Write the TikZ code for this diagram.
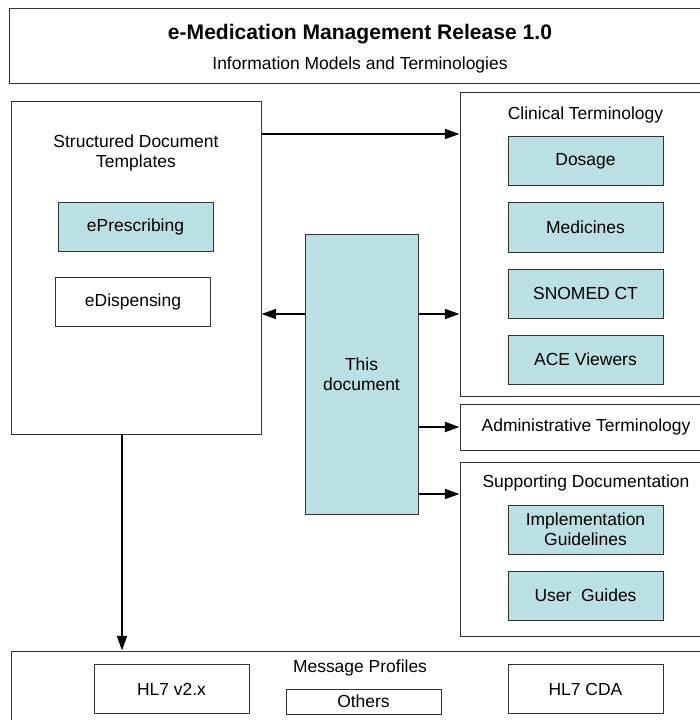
\documentclass[tikz,border=0pt]{standalone}
\usepackage{fontspec}
\setmainfont{Liberation Sans}
\usetikzlibrary{positioning,arrows.meta}

\definecolor{tealfill}{RGB}{186,224,227}

\begin{document}
\begin{tikzpicture}[x=0.75pt, y=-0.75pt,
  every node/.style={font=\fontsize{13.1}{15}\selectfont},
  frame/.style={draw=black!80, line width=0.75pt, inner sep=0pt},
  leaf/.style={frame, minimum width=116.25pt, minimum height=36.75pt, align=center},
  tleaf/.style={leaf, fill=tealfill},
  arr/.style={-{Triangle[length=11pt, width=7.5pt]}, line width=1.4pt}]
  \useasboundingbox (0,0) rectangle (699,720);
  % header
  \node[frame, minimum width=526.5pt, minimum height=56.25pt] (head) at (360,46.5) {};
  \node[font=\fontsize{15.8}{18}\selectfont\bfseries] (htitle) at (360,34) {e-Medication Management Release 1.0};
  \node (hsub) at (360,65) {Information Models and Terminologies};
  % templates
  \node[frame, minimum width=187.5pt, minimum height=249pt] (sdt) at (136,268) {};
  \node[align=center] (sdtlbl) at (136,153) {Structured Document\\Templates};
  \node[tleaf] (epres) at (135.5,227) {ePrescribing};
  \node[leaf] (edisp) at (133,302) {eDispensing};
  % clinical terminology
  \node[frame, minimum width=189pt, minimum height=227.25pt] (clin) at (586,244.5) {};
  \node (clinlbl) at (585.5,115) {Clinical Terminology};
  \node[tleaf] (dosage) at (585.5,161.5) {Dosage};
  \node[tleaf, below=12pt of dosage] (medic) {Medicines};
  \node[tleaf, below=12pt of medic] (snomed) {SNOMED CT};
  \node[tleaf, below=12pt of snomed] (acev) {ACE Viewers};
  % this document
  \node[frame, fill=tealfill, minimum width=84.75pt, minimum height=210pt, align=center] (thisdoc) at (361.5,374) {This\\document};
  % administrative
  \node[frame, minimum width=189pt, minimum height=34.5pt] (admin) at (586,427) {Administrative Terminology};
  % supporting documentation
  \node[frame, minimum width=189pt, minimum height=130.5pt] (supp) at (586,549) {};
  \node (supplbl) at (586,483) {Supporting Documentation};
  \node[tleaf] (impl) at (585.5,529.5) {Implementation\\Guidelines};
  \node[tleaf, below=12pt of impl] (guides) {User\ \ Guides};
  % message profiles
  \node[frame, minimum width=525.75pt, minimum height=66.75pt] (msg) at (361.5,695.5) {};
  \node (msglbl) at (360,668) {Message Profiles};
  \node[leaf] (hlv2) at (171.5,689) {HL7 v2.x};
  \node[leaf, minimum height=18.75pt] (others) at (363.5,701.5) {Others};
  \node[leaf] (hlcda) at (585.5,689) {HL7 CDA};
  % arrows
  \coordinate (toclin) at (0,134);
  \coordinate (mid) at (0,314);
  \coordinate (tosupp) at (0,494);
  \coordinate (down) at (122,0);
  \draw[arr] (sdt.east |- toclin) -- (clin.west |- toclin);
  \draw[arr] (thisdoc.west |- mid) -- (sdt.east |- mid);
  \draw[arr] (thisdoc.east |- mid) -- (clin.west |- mid);
  \draw[arr] (thisdoc.east |- admin.west) -- (admin.west);
  \draw[arr] (thisdoc.east |- tosupp) -- (supp.west |- tosupp);
  \draw[arr] (sdt.south -| down) -- (msg.north -| down);
\end{tikzpicture}
\end{document}
